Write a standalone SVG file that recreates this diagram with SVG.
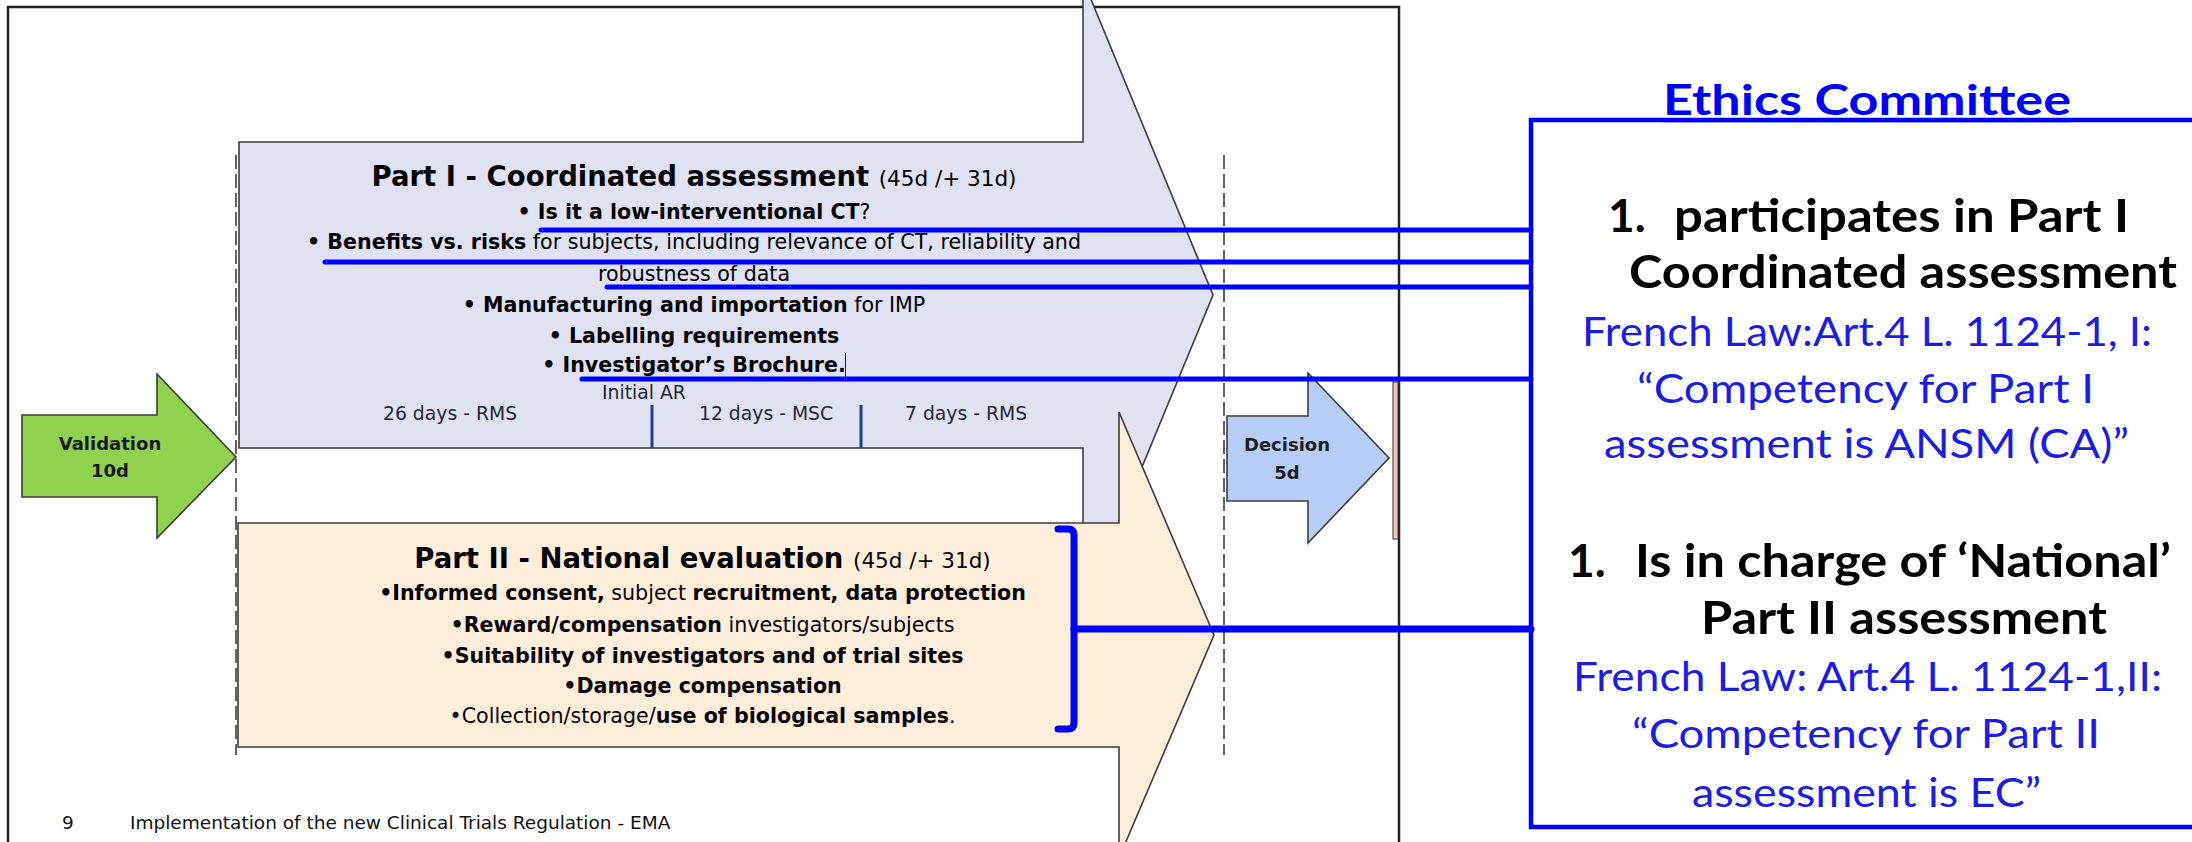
<svg xmlns="http://www.w3.org/2000/svg" width="2192" height="842" viewBox="0 0 2192 842">
<style>
.body{font-family:"DejaVu Sans",Verdana,sans-serif;font-size:20.6px;fill:#000}
.b{font-weight:bold}
.title{font-family:"DejaVu Sans",Verdana,sans-serif;font-size:27.5px;font-weight:bold;fill:#000}
.sub{font-size:21.5px;font-weight:normal}
.small{font-family:"DejaVu Sans",Verdana,sans-serif;font-size:18.8px;fill:#1f2638}
.arrowlbl{font-family:"DejaVu Sans",Verdana,sans-serif;font-size:18px;font-weight:bold;fill:#1a1a24;text-anchor:middle}
.gs{font-family:"Lato","Open Sans",sans-serif}
.blk{font-size:46px;font-weight:bold;fill:#000}
.blu{font-size:40px;fill:#1c1ce6}
.conn{stroke:#0000ff;fill:none;stroke-linecap:round;stroke-linejoin:round}
.dash{stroke:#333;stroke-width:1.5;stroke-dasharray:14 5;fill:none}
.shape{stroke:#3c3c3c;stroke-width:1.6}
</style>
<rect x="0" y="0" width="2192" height="842" fill="#fff"/>
<g id="frame">
<rect x="8" y="7" width="1391" height="900" fill="none" stroke="#222" stroke-width="2.5"/>
</g>
<g id="phase-lines">
<line class="dash" x1="236" y1="155" x2="236" y2="755"/>
<line class="dash" x1="1224" y1="155" x2="1224" y2="755"/>
</g>
<g id="part1">
<polygon class="shape" points="239,142 1083,142 1083,-20 1213,295 1083,610 1083,448 239,448" fill="#e0e2f2"/>
<text class="title" x="694" y="186" text-anchor="middle">Part I - Coordinated assessment <tspan class="sub">(45d /+ 31d)</tspan></text>
<text class="body" x="694" y="219" text-anchor="middle"><tspan class="b">• Is it a low-interventional CT</tspan>?</text>
<text class="body" x="694" y="249" text-anchor="middle"><tspan class="b">• Benefits vs. risks</tspan> for subjects, including relevance of CT, reliability and</text>
<text class="body" x="694" y="281" text-anchor="middle">robustness of data</text>
<text class="body" x="694" y="312" text-anchor="middle"><tspan class="b">• Manufacturing and importation</tspan> for IMP</text>
<text class="body b" x="694" y="343" text-anchor="middle">• Labelling requirements</text>
<text class="body b" x="694" y="372" text-anchor="middle">• Investigator’s Brochure.</text>
<line x1="845.5" y1="353" x2="845.5" y2="377" stroke="#222" stroke-width="1"/>
<text class="small" x="602" y="399">Initial AR</text>
<text class="small" x="383" y="420">26 days - RMS</text>
<text class="small" x="699" y="420">12 days - MSC</text>
<text class="small" x="905" y="420">7 days - RMS</text>
<line x1="652" y1="405" x2="652" y2="448" stroke="#1f3f8f" stroke-width="3"/>
<line x1="861" y1="405" x2="861" y2="448" stroke="#1f3f8f" stroke-width="3"/>
</g>
<g id="part2">
<polygon class="shape" points="238,523 1119,523 1119,412 1214,635 1119,858 1119,747 238,747" fill="#fdeedc"/>
<text class="title" x="702.5" y="568" text-anchor="middle">Part II - National evaluation <tspan class="sub">(45d /+ 31d)</tspan></text>
<text class="body" x="702.5" y="600" text-anchor="middle"><tspan class="b">•Informed consent,</tspan> subject <tspan class="b">recruitment, data protection</tspan></text>
<text class="body" x="702.5" y="632" text-anchor="middle"><tspan class="b">•Reward/compensation</tspan> investigators/subjects</text>
<text class="body b" x="702.5" y="663" text-anchor="middle">•Suitability of investigators and of trial sites</text>
<text class="body b" x="702.5" y="693" text-anchor="middle">•Damage compensation</text>
<text class="body" x="702.5" y="723" text-anchor="middle">•Collection/storage/<tspan class="b">use of biological samples</tspan>.</text>
</g>
<g id="validation">
<polygon class="shape" points="22,415 157,415 157,374 236,457 157,538 157,497 22,497" fill="#92d050"/>
<text class="arrowlbl" x="110" y="450">Validation</text>
<text class="arrowlbl" x="110" y="477">10d</text>
</g>
<g id="decision">
<polygon class="shape" points="1227,416 1308,416 1308,373 1389,458 1308,543 1308,501 1227,501" fill="#b7cdf7"/>
<text class="arrowlbl" x="1287" y="451">Decision</text>
<text class="arrowlbl" x="1287" y="479">5d</text>
</g>
<g id="end-bar">
<rect x="1393" y="382" width="5" height="157" fill="#f4c7c3" stroke="#333" stroke-width="1"/>
</g>
<g id="footer">
<text class="small" x="62" y="829" style="font-size:18.5px;fill:#111">9</text>
<text class="small" x="130" y="829" style="font-size:18.5px;fill:#111">Implementation of the new Clinical Trials Regulation - EMA</text>
</g>
<g id="ethics-committee">
<rect x="1531" y="120" width="720" height="707" fill="#fff" stroke="#0000ff" stroke-width="4.5"/>
<text class="gs" x="1663" y="115" textLength="408" lengthAdjust="spacingAndGlyphs" style="font-size:42px;font-weight:bold;fill:#0000ff;text-decoration:underline">Ethics Committee</text>
<text class="gs blk" x="1608" y="232">1.</text>
<text class="gs blk" x="1674" y="232" textLength="455" lengthAdjust="spacingAndGlyphs">participates in Part I</text>
<text class="gs blk" x="1629" y="288" textLength="548" lengthAdjust="spacingAndGlyphs">Coordinated assessment</text>
<text class="gs blu" x="1582" y="346" textLength="570" lengthAdjust="spacingAndGlyphs">French Law:Art.4 L. 1124-1, I:</text>
<text class="gs blu" x="1637" y="403" textLength="457" lengthAdjust="spacingAndGlyphs">“Competency for Part I</text>
<text class="gs blu" x="1604" y="458" textLength="525" lengthAdjust="spacingAndGlyphs">assessment is ANSM (CA)”</text>
<text class="gs blk" x="1568" y="577">1.</text>
<text class="gs blk" x="1635" y="577" textLength="536" lengthAdjust="spacingAndGlyphs">Is in charge of ‘National’</text>
<text class="gs blk" x="1701" y="634" textLength="406" lengthAdjust="spacingAndGlyphs">Part II assessment</text>
<text class="gs blu" x="1573" y="691" textLength="589" lengthAdjust="spacingAndGlyphs">French Law:  Art.4 L. 1124-1,II:</text>
<text class="gs blu" x="1632" y="748" textLength="468" lengthAdjust="spacingAndGlyphs">“Competency for Part II</text>
<text class="gs blu" x="1692" y="807" textLength="349" lengthAdjust="spacingAndGlyphs">assessment is EC”</text>
</g>
<g id="connectors">
<line class="conn" x1="541" y1="230" x2="1531" y2="230" stroke-width="5"/>
<line class="conn" x1="325" y1="262" x2="1531" y2="262" stroke-width="5"/>
<line class="conn" x1="607" y1="287" x2="1531" y2="287" stroke-width="5"/>
<line class="conn" x1="582" y1="379" x2="1531" y2="379" stroke-width="5"/>
<path class="conn" d="M1058,529 L1068,529 Q1074,529 1074,535 L1074,723 Q1074,729 1068,729 L1058,729" stroke-width="7"/>
<line class="conn" x1="1074" y1="629" x2="1531" y2="629" stroke-width="7" stroke-linecap="butt"/>
</g>
</svg>
